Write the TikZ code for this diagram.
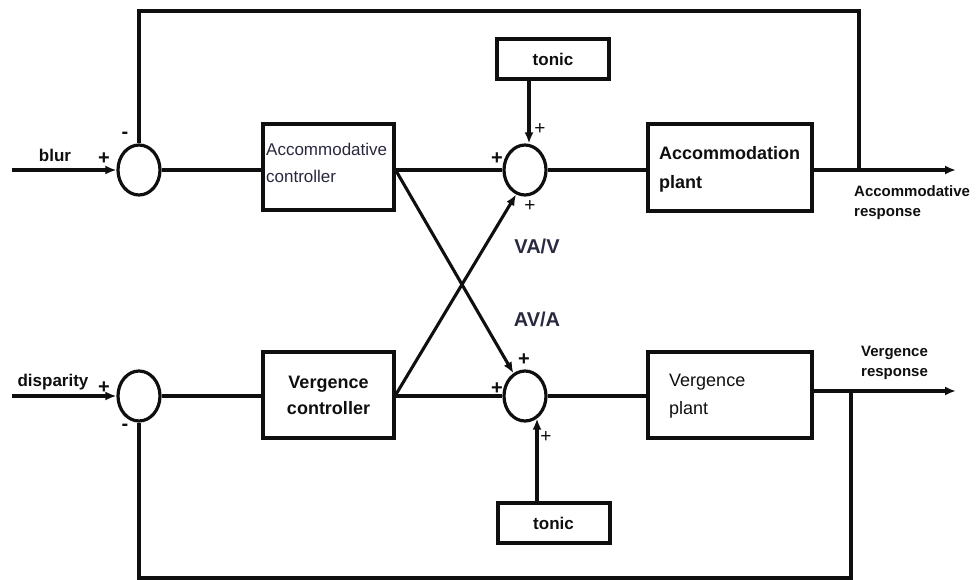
\documentclass[tikz,border=0pt]{standalone}
\usepackage{fontspec}
\setmainfont{Liberation Sans}
\usetikzlibrary{arrows.meta,shapes.geometric}
\definecolor{ink}{RGB}{15,15,15}
\definecolor{gainink}{RGB}{40,40,62}
\begin{document}
\begin{tikzpicture}[x=1pt,y=-1pt,
  every node/.style={text=ink},
  wire/.style={draw=ink,line width=3.1pt},
  arr/.style={wire,-{Latex[length=11pt,width=9pt]}},
  blockbox/.style={draw=ink,line width=3.2pt,inner sep=0pt},
  tonicbox/.style={draw=ink,line width=4pt,inner sep=0pt,minimum width=112pt,minimum height=40pt,
    font=\fontsize{17}{17}\selectfont\bfseries},
  sumnode/.style={draw=ink,ellipse,line width=3.2pt,minimum width=42pt,minimum height=50pt,inner sep=0pt},
  sign/.style={inner sep=0pt,font=\fontsize{20}{20}\selectfont\bfseries},
  thinsign/.style={inner sep=0pt,font=\fontsize{19}{19}\selectfont},
  txt/.style={inner sep=0pt,align=left,anchor=west},
  gainlbl/.style={inner sep=0pt,text=gainink,font=\fontsize{20}{20}\selectfont\bfseries},
]
\useasboundingbox (0,0) rectangle (979,580);

% summing junctions
\node[sumnode] (sA)  at (139,170) {};
\node[sumnode] (sV)  at (139,396) {};
\node[sumnode] (sA2) at (525,170) {};
\node[sumnode] (sV2) at (525,396) {};

% blocks
\node[blockbox,minimum width=131pt,minimum height=86pt] (accC) at (328.5,167) {};
\node[blockbox,minimum width=131pt,minimum height=86pt,align=center,
  font=\fontsize{18}{26}\selectfont\bfseries] (vergC) at (328.5,395) {Vergence\\controller};
\node[blockbox,minimum width=164pt,minimum height=87pt] (accP) at (730,167.5) {};
\node[blockbox,minimum width=164pt,minimum height=86pt] (vergP) at (730,395) {};
\node[tonicbox] (tonicA) at (553,59) {tonic};
\node[tonicbox] (tonicV) at (553.5,523) {tonic};

% block texts
\node[txt,text=gainink,font=\fontsize{17}{27}\selectfont] (accCtext) at (266,162.5) {Accommodative\\controller};
\node[txt,font=\fontsize{18}{29}\selectfont\bfseries] (accPtext) at (659,169.5) {Accommodation\\plant};
\node[txt,font=\fontsize{18}{28}\selectfont] (vergPtext) at (669,396) {Vergence\\plant};

% signal names
\node[inner sep=0pt,font=\fontsize{17}{17}\selectfont\bfseries] (blurLbl) at (55,155) {blur};
\node[inner sep=0pt,font=\fontsize{17}{17}\selectfont\bfseries] (dispLbl) at (53,382) {disparity};
\node[txt,font=\fontsize{15}{20}\selectfont\bfseries] (accResp) at (854,203) {Accommodative\\response};
\node[txt,font=\fontsize{15}{20}\selectfont\bfseries] (vergResp) at (861,363) {Vergence\\response};
\node[gainlbl] (vaLbl) at (537,246) {VA/V};
\node[gainlbl] (avLbl) at (537,319) {AV/A};

% signs at the junctions
\node[sign] (pA1) at (104,159) {+};
\node[sign] (mA1) at (125,135) {-};
\node[sign] (pV1) at (104,388) {+};
\node[sign] (mV1) at (125,427) {-};
\node[sign] (pA2l) at (497,159) {+};
\node[thinsign] (pA2t) at (540,129) {+};
\node[thinsign] (pA2b) at (530,206) {+};
\node[sign] (pV2t) at (524,360) {+};
\node[sign] (pV2l) at (497,389) {+};
\node[thinsign] (pV2b) at (546,437) {+};

% accommodation loop
\coordinate (blurIn) at (12,170);
\coordinate (accOut) at (956,170);
\coordinate (jA) at (859,170);
\coordinate (topRail) at (0,11);
\draw[arr] (blurIn) -- (sA.west);
\draw[wire] (sA.east) -- (accC.west |- sA.east);
\draw[wire] (accC.east |- sA2.west) -- (sA2.west);
\draw[wire] (sA2.east) -- (accP.west |- sA2.east);
\draw[arr] (accP.east |- sA2.east) -- (accOut);
\draw[wire] (jA) -- (jA |- topRail) -| (sA.north);

% vergence loop
\coordinate (dispIn) at (12,396);
\coordinate (vergOut) at (956,391);
\coordinate (jV) at (851,391);
\coordinate (bottomRail) at (0,578);
\draw[arr] (dispIn) -- (sV.west);
\draw[wire] (sV.east) -- (vergC.west |- sV.east);
\draw[wire] (vergC.east |- sV2.west) -- (sV2.west);
\draw[wire] (sV2.east) -- (vergP.west |- sV2.east);
\draw[arr] (vergOut -| vergP.east) -- (vergOut);
\draw[wire] (jV) -- (jV |- bottomRail) -| (sV.south);

% tonic inputs
\coordinate (tA) at ([xshift=4pt]sA2.north);
\coordinate (tV) at ([xshift=12pt,yshift=4pt]sV2.south);
\draw[arr] (tA |- tonicA.south) -- (tA);
\draw[arr] (tV |- tonicV.north) -- (tV);

% cross links
\draw[arr] (vergC.east) -- (sA2.-110);
\draw[arr] (accC.east |- sA2.west) -- (sV2.117);
\end{tikzpicture}
\end{document}
